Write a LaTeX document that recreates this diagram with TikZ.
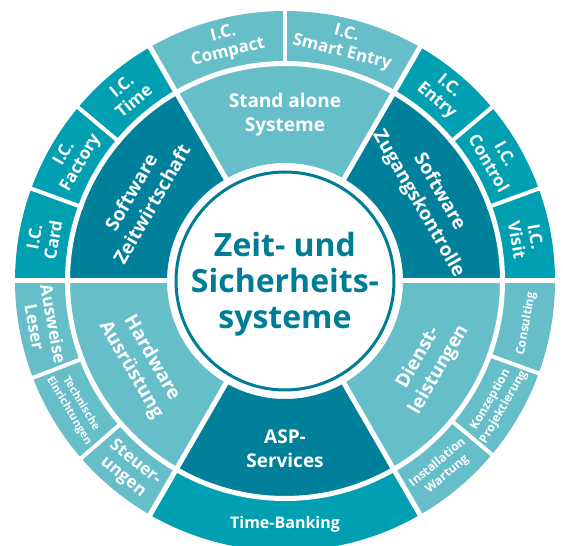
\documentclass[tikz,border=0pt]{standalone}
\usepackage{fontspec}
\setmainfont{Open Sans}
\definecolor{darkteal}{RGB}{0,128,155}
\definecolor{midteal}{RGB}{0,160,178}
\definecolor{lightteal}{RGB}{102,190,200}
\definecolor{titleteal}{RGB}{0,125,150}
\newcommand\annseg[5]{\fill[#1] (#2:#5pt) arc[start angle=#2, end angle=#3, radius=#5pt] -- (#3:#4pt) arc[start angle=#3, end angle=#2, radius=#4pt] -- cycle;}
\tikzset{
  midtxt/.style={text=white, font=\bfseries\fontsize{19}{24}\selectfont, align=center, inner sep=0pt},
  outtxt/.style={text=white, font=\bfseries\fontsize{17}{19}\selectfont, align=center, inner sep=0pt},
  smalltxt/.style={text=white, font=\bfseries\fontsize{12}{15}\selectfont, align=center, inner sep=0pt},
  tinytxt/.style={text=white, font=\bfseries\fontsize{11}{14}\selectfont, align=center, inner sep=0pt},
  cuts/.style={white, line width=5pt},
  thincut/.style={white, line width=4pt}
}
\begin{document}
\begin{tikzpicture}[x=1pt,y=1pt]
\useasboundingbox (0,0) rectangle (563,546);
\coordinate (C) at (285,265);
\begin{scope}[shift={(C)}]
% outer ring
\annseg{lightteal}{60}{120}{217}{270}
\annseg{midteal}{0}{60}{217}{270}
\annseg{midteal}{120}{180}{217}{270}
\annseg{lightteal}{180}{240}{217}{270}
\annseg{midteal}{240}{300}{217}{270}
\annseg{lightteal}{300}{360}{217}{270}
% middle ring
\annseg{lightteal}{60}{120}{118}{218}
\annseg{darkteal}{0}{60}{118}{218}
\annseg{darkteal}{120}{180}{118}{218}
\annseg{lightteal}{180}{240}{118}{218}
\annseg{darkteal}{240}{300}{118}{218}
\annseg{lightteal}{300}{360}{118}{218}
% white gaps
\draw[cuts] (0,0) circle[radius=217.5pt];
\foreach \a in {0,60,120,180,240,300} \draw[cuts] (\a:112pt) -- (\a:275pt);
\foreach \a in {90,20,40,140,160,201,221,320,340} \draw[thincut] (\a:215pt) -- (\a:275pt);
% centre
\draw[titleteal, line width=3pt] (0,0) circle[radius=109pt];
\node[text=titleteal, font=\bfseries\fontsize{32}{36}\selectfont, align=center, inner sep=0pt] (title) at (0,-3) {Zeit- und\\Sicherheits-\\systeme};
% middle labels
\node[midtxt] (standalone) at (90:166pt) {Stand alone\\Systeme};
\node[midtxt, rotate=-60] (zugang) at (30:166pt) {Software\\Zugangskontrolle};
\node[midtxt, rotate=60] (dienst) at (330:166pt) {Dienst-\\leistungen};
\node[midtxt] (asp) at (270:168pt) {ASP-\\Services};
\node[midtxt, rotate=-60] (hardware) at (210:166pt) {Hardware\\Ausrüstung};
\node[midtxt, rotate=60] (zeitw) at (150:166pt) {Software\\Zeitwirtschaft};
% outer labels
\node[outtxt, rotate=14] (compact) at (104:245pt) {I.C.\\Compact};
\node[outtxt, rotate=-14] (smart) at (76:245pt) {I.C.\\Smart Entry};
\node[outtxt, rotate=-40] (entry) at (50:245pt) {I.C.\\Entry};
\node[outtxt, rotate=-60] (control) at (30:245pt) {I.C.\\Control};
\node[outtxt, rotate=-80] (visit) at (10:245pt) {I.C.\\Visit};
\node[outtxt, rotate=40] (time) at (130:245pt) {I.C.\\Time};
\node[outtxt, rotate=60] (factory) at (150:245pt) {I.C.\\Factory};
\node[outtxt, rotate=80] (card) at (170:245pt) {I.C.\\Card};
\node[outtxt, rotate=-79.5] (ausweise) at (190.5:245pt) {Ausweise\\Leser};
\node[tinytxt, rotate=-59] (technische) at (211:245pt) {Technische\\Einrichtungen};
\node[outtxt, rotate=-39.5] (steuer) at (230.5:245pt) {Steuer-\\ungen};
\node[outtxt, font=\bfseries\fontsize{16}{18}\selectfont] (banking) at (270:243pt) {Time-Banking};
\node[smalltxt, rotate=40] (install) at (310:245pt) {Installation\\Wartung};
\node[smalltxt, rotate=60] (konzept) at (330:245pt) {Konzeption\\Projektierung};
\node[smalltxt, rotate=80] (consult) at (350:245pt) {Consulting};
\end{scope}
\end{tikzpicture}
\end{document}
